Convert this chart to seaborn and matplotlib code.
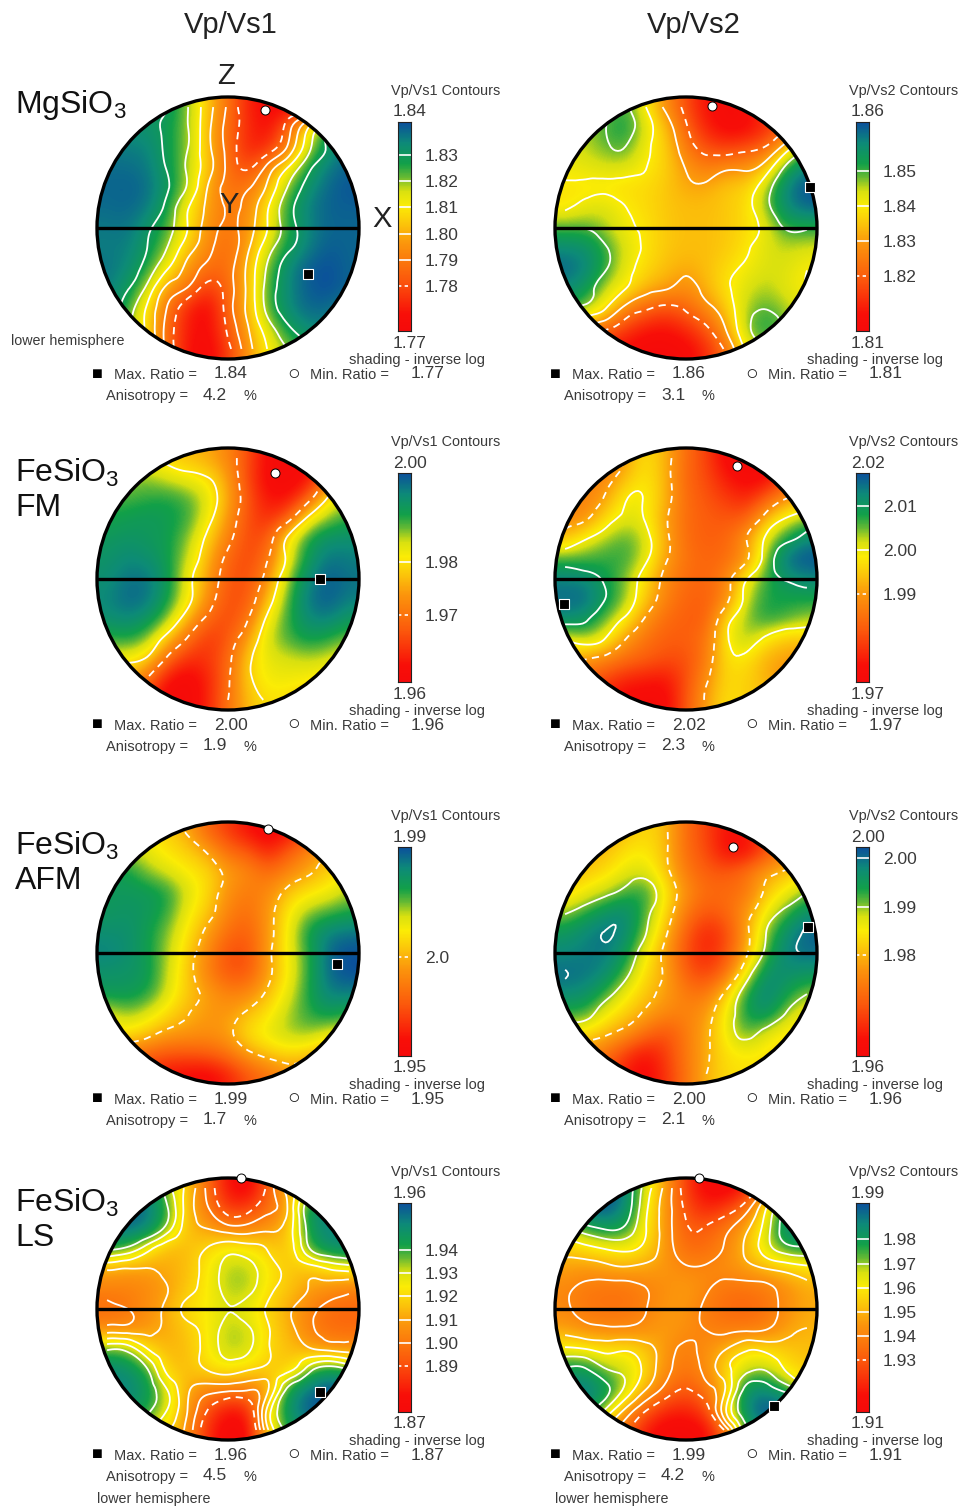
import numpy as np
import matplotlib
matplotlib.use("Agg")
from matplotlib import pyplot as plt
from matplotlib.colors import LinearSegmentedColormap
from matplotlib.patches import Circle
from matplotlib.tri import Triangulation, UniformTriRefiner
import seaborn as sns

sns.set_theme(style="white")
plt.rcParams['font.family'] = ['Liberation Sans', 'DejaVu Sans']
plt.rcParams['mathtext.default'] = 'regular'

W, H = 960, 1507
TXT = '#3a3a3a'

# shading position of each stereonet cell, 0 = bottom of colour bar, 100 = top
# rows run north to south, columns west to east
mg_vs1 = [
    [84,85,86,85,72,52,32,12,5,5,10,40,70],
    [88,88,87,82,72,50,30,14,6,29,59,84,92],
    [92,92,91,82,72,50,30,12,14,37,68,86,94],
    [95,95,93,83,70,52,31,20,39,60,81,93,97],
    [96,97,95,85,70,46,31,33,50,73,88,96,99],
    [95,96,93,80,60,44,33,39,59,80,92,97,97],
    [93,94,86,76,59,41,32,41,60,78,91,96,96],
    [92,92,84,71,52,38,29,45,67,82,92,98,96],
    [94,90,79,60,43,30,30,50,74,90,98,100,96],
    [92,85,68,43,33,16,28,50,77,90,98,100,96],
    [92,78,57,33,12,4,28,50,76,90,96,95,90],
    [88,72,56,29,10,5,24,46,66,82,90,90,90],
    [86,70,56,30,8,3,18,42,60,72,82,85,85],
]
mg_vs2 = [
    [70,70,72,78,60,40,22,8,4,6,20,30,45],
    [68,70,76,82,66,50,28,12,4,5,14,24,40],
    [66,68,74,76,62,54,34,22,18,22,28,52,75],
    [62,64,66,66,60,54,42,34,40,40,52,80,92],
    [58,58,58,56,56,52,46,46,52,54,70,92,100],
    [58,64,66,60,56,52,50,50,52,56,72,90,96],
    [76,76,70,62,58,52,50,50,52,56,64,78,78],
    [90,88,78,66,58,52,50,50,52,58,66,68,66],
    [96,92,78,64,56,50,46,50,56,62,66,66,60],
    [90,84,68,60,48,44,38,48,58,66,70,64,60],
    [80,72,60,38,28,22,28,38,52,70,76,70,64],
    [60,40,28,18,10,8,14,24,44,72,82,72,60],
    [40,24,12,6,2,2,4,14,30,62,70,65,55],
]
fm_vs1 = [
    [60,60,58,54,50,46,38,22,5,2,5,20,40],
    [66,70,72,66,62,58,44,20,4,2,8,30,55],
    [76,76,78,80,76,66,46,24,8,8,26,60,70],
    [80,82,84,82,78,62,42,22,14,26,62,72,78],
    [84,86,84,82,72,54,36,20,24,62,80,88,88],
    [86,90,88,82,68,48,28,20,32,62,84,94,92],
    [88,94,94,84,62,44,24,22,40,72,90,98,94],
    [90,96,94,82,62,40,22,24,50,76,94,98,92],
    [88,90,86,72,48,28,20,32,62,78,90,92,84],
    [76,80,72,50,30,16,24,44,68,76,82,78,72],
    [62,60,54,28,14,16,28,54,64,66,68,66,60],
    [50,48,30,8,2,12,30,54,62,62,60,56,52],
    [40,30,16,2,2,12,32,50,58,56,52,50,48],
]
fm_vs2 = [
    [30,30,30,44,58,48,30,20,4,2,2,10,24],
    [32,36,38,50,60,48,28,22,10,4,6,20,28],
    [36,36,44,62,62,48,30,24,18,12,26,42,46],
    [38,40,56,66,62,44,30,26,24,26,50,64,72],
    [50,62,70,76,68,46,30,26,28,42,66,80,90],
    [76,76,78,78,66,44,32,28,30,40,72,96,100],
    [92,90,82,72,56,38,30,28,36,62,78,86,90],
    [95,96,84,72,52,36,28,26,38,68,80,80,80],
    [90,86,74,60,40,30,26,26,56,72,80,76,70],
    [62,70,62,42,32,26,26,32,60,72,58,50,52],
    [48,42,36,30,26,22,22,34,58,58,46,44,40],
    [30,26,20,12,10,8,22,40,56,54,48,38,34],
    [20,16,10,4,4,4,24,44,58,54,50,44,38],
]
afm_vs1 = [
    [70,68,60,54,46,28,18,8,2,8,20,32,40],
    [72,70,64,58,54,46,30,26,12,26,38,48,52],
    [82,82,72,66,60,56,44,38,30,38,46,54,60],
    [84,84,84,80,66,56,40,34,38,52,58,62,70],
    [84,86,84,78,62,52,36,30,42,60,72,76,80],
    [88,88,82,72,58,44,30,26,42,62,82,92,94],
    [92,88,82,70,54,38,22,22,44,62,78,96,100],
    [86,86,84,68,52,36,24,24,44,60,78,96,100],
    [84,84,80,66,52,44,36,38,50,64,80,92,92],
    [64,72,66,56,48,42,42,50,58,70,78,84,78],
    [58,58,52,44,42,40,44,58,64,70,72,64,62],
    [40,34,28,24,24,26,32,44,52,56,52,44,44],
    [28,22,14,8,6,4,12,24,32,40,38,32,28],
]
afm_vs2 = [
    [40,40,42,50,56,50,30,20,8,10,22,30,36],
    [44,46,50,58,60,50,30,22,6,6,22,36,44],
    [48,52,56,64,66,52,34,26,24,32,44,50,58],
    [54,62,68,76,80,60,40,30,30,32,52,62,72],
    [70,78,86,90,76,56,34,24,28,42,62,76,88],
    [84,90,95,90,72,50,26,12,20,44,72,88,97],
    [90,92,93,84,62,44,22,12,22,46,76,92,95],
    [95,94,90,76,56,46,26,18,30,62,88,88,86],
    [90,88,78,62,52,44,34,32,52,80,92,82,72],
    [78,78,62,54,46,38,36,42,62,82,88,70,60],
    [60,56,50,42,30,22,34,46,62,76,64,58,56],
    [48,40,32,18,8,18,34,46,58,60,58,54,52],
    [40,30,24,10,4,16,32,48,56,58,56,52,50],
]
ls_vs1 = [
    [94,94,90,70,52,30,8,2,26,50,60,70,88],
    [98,96,95,78,50,34,16,18,30,46,86,92,90],
    [96,96,92,72,50,44,38,38,42,50,82,92,90],
    [80,75,60,48,50,56,62,60,54,50,76,88,90],
    [46,44,44,46,50,60,70,70,60,52,50,56,60],
    [36,36,38,44,52,60,70,70,58,52,44,40,36],
    [30,33,40,47,58,60,66,62,54,46,37,30,28],
    [38,38,42,46,52,60,70,68,56,48,36,30,30],
    [76,74,56,48,50,60,70,68,56,50,46,42,40],
    [90,88,78,52,50,56,60,56,52,52,72,84,76],
    [92,92,84,66,46,38,36,34,44,82,95,100,100],
    [88,88,80,66,44,22,8,12,60,88,98,100,100],
    [72,72,66,56,40,14,2,4,55,80,90,92,94],
]
ls_vs2 = [
    [74,90,100,92,66,44,18,4,2,10,40,72,82],
    [80,96,100,90,62,42,22,12,18,32,60,84,96],
    [68,78,84,80,60,42,26,26,34,46,66,90,96],
    [52,56,60,62,56,42,30,30,38,50,66,78,80],
    [44,42,44,46,44,42,38,38,40,44,48,52,56],
    [38,34,32,32,36,40,44,38,32,32,34,40,46],
    [38,33,32,32,36,42,42,34,30,28,32,40,46],
    [44,40,38,38,40,44,40,36,34,34,36,44,48],
    [62,60,56,58,52,42,34,40,48,58,56,52,50],
    [84,84,72,68,56,40,32,40,56,68,70,58,52],
    [92,94,86,68,48,32,24,32,50,88,90,78,62],
    [96,90,70,46,26,14,12,20,60,92,100,100,90],
    [80,64,44,28,10,2,2,6,30,80,90,98,96],
]

grids = [mg_vs1, mg_vs2, fm_vs1, fm_vs2, afm_vs1, afm_vs2, ls_vs1, ls_vs2]
scale_hi = [1.8427, 1.8641, 1.9968, 2.0175, 1.9900, 2.0023, 1.9604, 1.9950]
scale_lo = [1.7627, 1.8043, 1.9574, 1.9700, 1.9500, 1.9593, 1.8700, 1.9087]
tick_vals = [
    [1.83, 1.82, 1.81, 1.80, 1.79, 1.78],
    [1.85, 1.84, 1.83, 1.82],
    [1.98, 1.97],
    [2.01, 2.00, 1.99],
    [1.969],
    [2.00, 1.99, 1.98],
    [1.94, 1.93, 1.92, 1.91, 1.90, 1.89],
    [1.98, 1.97, 1.96, 1.95, 1.94, 1.93],
]
tick_text = [
    ['1.83', '1.82', '1.81', '1.80', '1.79', '1.78'],
    ['1.85', '1.84', '1.83', '1.82'],
    ['1.98', '1.97'],
    ['2.01', '2.00', '1.99'],
    ['2.0'],
    ['2.00', '1.99', '1.98'],
    ['1.94', '1.93', '1.92', '1.91', '1.90', '1.89'],
    ['1.98', '1.97', '1.96', '1.95', '1.94', '1.93'],
]
max_ratio = ['1.84', '1.86', '2.00', '2.02', '1.99', '2.00', '1.96', '1.99']
min_ratio = ['1.77', '1.81', '1.96', '1.97', '1.95', '1.96', '1.87', '1.91']
anisotropy = ['4.2', '3.1', '1.9', '2.3', '1.7', '2.1', '4.5', '4.2']
# direction of the extreme on the unit stereonet (east, north)
max_x = [0.61, 0.95, 0.70, -0.93, 0.83, 0.93, 0.70, 0.67]
max_y = [-0.35, 0.31, 0.0, -0.19, -0.085, 0.20, -0.63, -0.74]
min_x = [0.285, 0.20, 0.36, 0.39, 0.305, 0.36, 0.10, 0.10]
min_y = [0.90, 0.93, 0.81, 0.86, 0.95, 0.81, 1.0, 1.0]
columns = ['Vp/Vs1', 'Vp/Vs2']
row_names = ['MgSiO$_3$', 'FeSiO$_3$\nFM', 'FeSiO$_3$\nAFM', 'FeSiO$_3$\nLS']

centre_x = [228, 686]
centre_y = [228, 579, 953, 1309]
row_label_y = [105, 490, 863, 1220]
R = 131

shade = LinearSegmentedColormap.from_list('shade', [
    (0.00, '#f50a0a'), (0.08, '#f80f08'), (0.25, '#fb5a0c'), (0.42, '#fb960c'),
    (0.52, '#fbc80a'), (0.60, '#fbec05'), (0.67, '#d8e010'), (0.74, '#62b834'),
    (0.80, '#12a048'), (0.90, '#0d8a78'), (1.00, '#0b4f9c')])

fig = plt.figure(figsize=(W / 100, H / 100), dpi=100)


def label(x, y, s, size=10.5, ha='left', color=TXT, **kw):
    fig.text(x / W, 1 - y / H, s, fontsize=size, ha=ha, va='center', color=color, **kw)


def box(left, top, width, height):
    return fig.add_axes([left / W, 1 - (top + height) / H, width / W, height / H])


for i, rows in enumerate(grids):
    row, col = i // 2, i % 2
    cx, cy = centre_x[col], centre_y[row]
    lo, hi = scale_lo[i], scale_hi[i]
    vals = lo + np.array(rows) / 100 * (hi - lo)
    n = vals.shape[0]

    ax = box(cx - R, cy - R, 2 * R, 2 * R)
    sns.heatmap(vals, ax=ax, cmap=shade, vmin=lo, vmax=hi, cbar=False, square=True,
                xticklabels=False, yticklabels=False)
    disk = Circle((n / 2, n / 2), n / 2, transform=ax.transData)
    ax.collections[0].set_clip_path(disk)
    smooth = ax.imshow(vals, cmap=shade, vmin=lo, vmax=hi, extent=(0, n, n, 0),
                       interpolation='bicubic', aspect='equal', zorder=2)
    smooth.set_clip_path(disk)

    levels = sorted(tick_vals[i])
    styles = [(0, (4, 3))] + ['solid'] * (len(levels) - 1)
    pos = np.arange(n) + 0.5
    gx, gy = np.meshgrid(pos, pos)
    fine, fine_vals = UniformTriRefiner(Triangulation(gx.ravel(), gy.ravel())).refine_field(vals.ravel(), subdiv=3)
    cs = ax.tricontour(fine, fine_vals, levels=levels, colors='white', linewidths=1.3,
                       linestyles=styles, zorder=3)
    cs.set_clip_path(disk)

    ax.set_xlim(0, n)
    ax.set_ylim(n, 0)
    ax.axis('off')
    ax.add_patch(Circle((n / 2, n / 2), n / 2, fill=False, ec='black', lw=2.4, clip_on=False, zorder=4))
    ax.plot([0, n], [n / 2, n / 2], color='black', lw=2.4, solid_capstyle='butt', zorder=4)

    sns.scatterplot(x=[(max_x[i] + 1) * n / 2], y=[(1 - max_y[i]) * n / 2], ax=ax, marker='s',
                    s=42, color='black', edgecolor='white', linewidth=0.8, clip_on=False,
                    zorder=5, legend=False)
    sns.scatterplot(x=[(min_x[i] + 1) * n / 2], y=[(1 - min_y[i]) * n / 2], ax=ax, marker='o',
                    s=42, color='white', edgecolor='black', linewidth=0.7, clip_on=False,
                    zorder=5, legend=False)
    ax.set_xlim(0, n)
    ax.set_ylim(n, 0)

    # colour bar
    bar = box(cx + 170, cy - 106, 13, 209)
    steps = 256
    ramp = np.linspace(hi, lo, steps).reshape(-1, 1)
    sns.heatmap(ramp, ax=bar, cmap=shade, vmin=lo, vmax=hi, cbar=False,
                xticklabels=False, yticklabels=False)
    marks = [(hi - v) / (hi - lo) * steps for v in tick_vals[i]]
    for m, v in zip(marks, tick_vals[i]):
        bar.axhline(m, color='white', lw=1.2, ls=(0, (2, 2)) if v == min(tick_vals[i]) else '-')
    bar.yaxis.tick_right()
    bar.set_yticks(marks)
    bar.set_yticklabels(tick_text[i], fontsize=12.5, color=TXT)
    bar.tick_params(axis='y', length=0, pad=10, labelright=True, labelleft=False)
    for s in bar.spines.values():
        s.set_visible(True)
        s.set_color('#222222')
        s.set_linewidth(0.8)

    label(cx + 163, cy - 137, columns[col] + ' Contours', size=10.4)
    label(cx + 182, cy - 116, max_ratio[i], size=12.5, ha='center')
    label(cx + 182, cy + 115, min_ratio[i], size=12.5, ha='center')
    label(cx + 121, cy + 132, 'shading - inverse log', size=10.5)

    label(cx - 114, cy + 147, 'Max. Ratio =', size=10.5)
    label(cx - 14, cy + 146, max_ratio[i], size=12.5)
    label(cx + 82, cy + 147, 'Min. Ratio =', size=10.5)
    label(cx + 183, cy + 146, min_ratio[i], size=12.5)
    label(cx - 122, cy + 168, 'Anisotropy =', size=10.5)
    label(cx - 25, cy + 167, anisotropy[i], size=12.5)
    label(cx + 16, cy + 168, '%', size=10.5)
    fig.text((cx - 131) / W, 1 - (cy + 146) / H, '\u25a0', fontsize=13, ha='center', va='center', color='black')
    fig.text((cx + 66) / W, 1 - (cy + 146) / H, '\u25cb', fontsize=15, ha='center', va='center', color='#222222')

label(231, 25, columns[0], size=21, ha='center', color='#222222')
label(694, 25, columns[1], size=21, ha='center', color='#222222')
for y, name in zip(row_label_y, row_names):
    fig.text(15 / W, 1 - y / H, name, fontsize=23, ha='left', va='center', color='#111111', linespacing=1.15)

label(226, 76, 'Z', size=21, ha='center', color='#222222')
label(229, 205, 'Y', size=21, ha='center', color='#222222')
label(382, 219, 'X', size=21, ha='center', color='#222222')
label(11, 341, 'lower hemisphere', size=10.3)
label(97, 1499, 'lower hemisphere', size=10.3)
label(555, 1499, 'lower hemisphere', size=10.3)

fig.savefig('out.png', dpi=100)
